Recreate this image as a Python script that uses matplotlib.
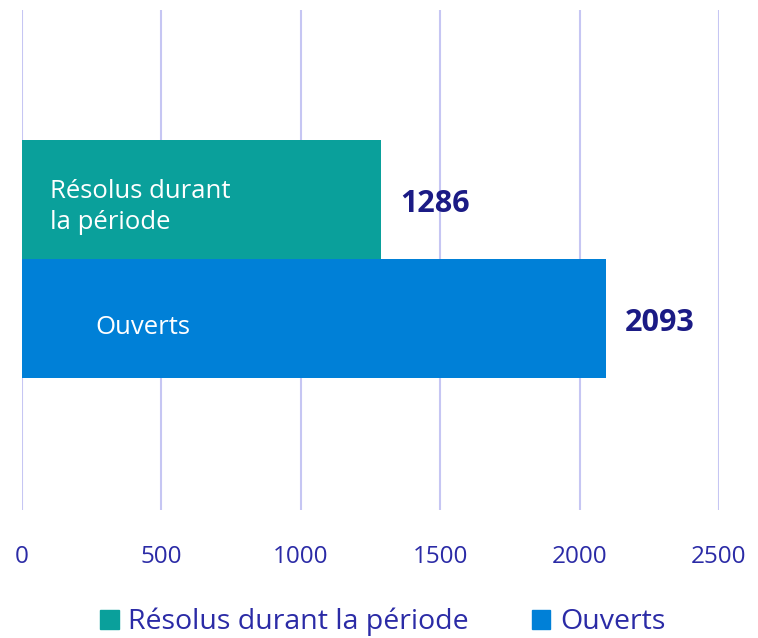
import numpy as np
import matplotlib.pyplot as plt
from matplotlib.patches import Patch

# data
series = ["Résolus durant la période", "Ouverts"]
values = [1286, 2093]
inbar_labels = ["Résolus durant\nla période", "Ouverts"]
colors = ["#0AA09B", "#0080D7"]
xticks = [0, 500, 1000, 1500, 2000, 2500]

plt.rcParams['font.family'] = ['Open Sans', 'DejaVu Sans']

fig = plt.figure(figsize=(7.58, 6.38), dpi=100)
ax = fig.add_axes([22/758, 128/638, 697/758, 500/638])

ypos = [1, 0]
ax.barh(ypos, values, height=1.0, color=colors, zorder=2)

ax.set_xlim(0, 2500)
ax.set_ylim(-1.605, 2.595)
ax.set_xticks(xticks)
ax.set_xticklabels([str(t) for t in xticks], fontsize=17.5, color="#2B2BA6")
ax.tick_params(axis='x', length=0, pad=25)
ax.set_yticks([])
for s in ax.spines.values():
    s.set_visible(False)
ax.grid(axis='x', color="#C6C6F3", linewidth=1.5, zorder=0)

# value labels
for y, v in zip(ypos, values):
    ax.annotate(str(v), (v, y), xytext=(14, -3), textcoords='offset points',
                va='center', ha='left', fontsize=22, fontweight='bold', color="#1B1B85")

# labels inside bars
ax.annotate(inbar_labels[0], (0, ypos[0]), xytext=(20, -5), textcoords='offset points',
            va='center', ha='left', fontsize=18.5, color="white", linespacing=1.3)
ax.annotate(inbar_labels[1], (0, ypos[1]), xytext=(53, -6), textcoords='offset points',
            va='center', ha='left', fontsize=18.5, color="white")

handles = [Patch(color=c, label=s) for c, s in zip(colors, series)]
leg = fig.legend(handles=handles, loc='center', bbox_to_anchor=(0.505, 16/638), ncol=2,
                 frameon=False, fontsize=20.5, handlelength=0.65, handleheight=0.65,
                 handletextpad=0.35, columnspacing=2.2)
for t in leg.get_texts():
    t.set_color("#2B2BA6")

fig.savefig("out.png", dpi=100)
